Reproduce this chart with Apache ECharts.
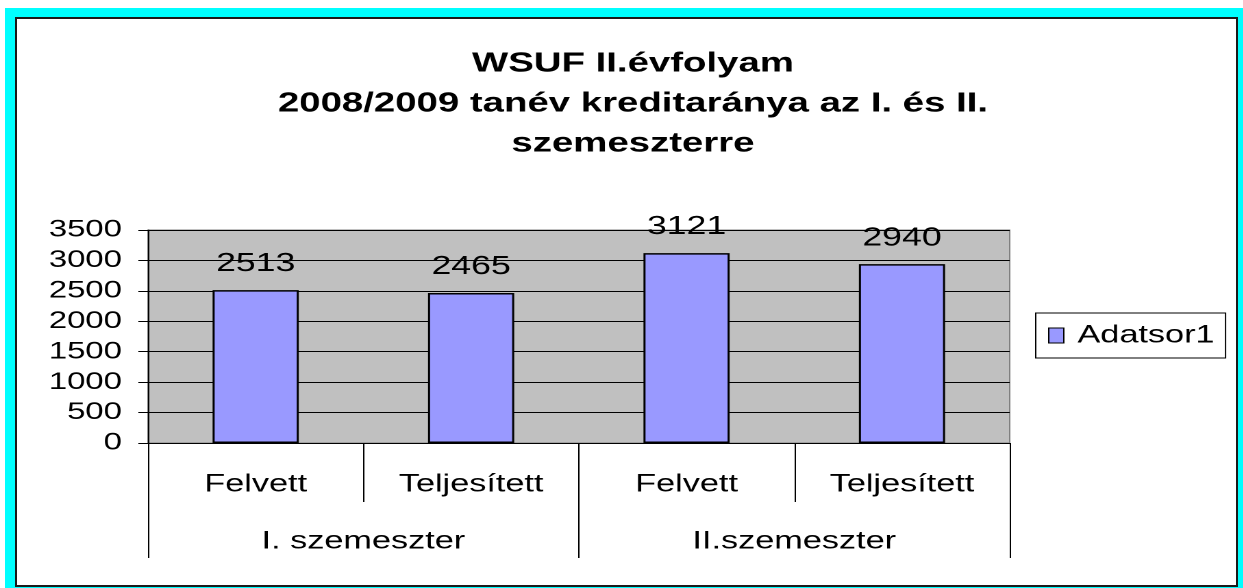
<!DOCTYPE html>
<html lang="hu">
<head>
<meta charset="utf-8">
<title>WSUF II.évfolyam kreditarány</title>
<script src="https://cdn.jsdelivr.net/npm/echarts@6/dist/echarts.min.js"></script>
<style>
  html, body { margin: 0; padding: 0; width: 1243px; height: 588px; background: #fff; overflow: hidden; }
  #frame { position: absolute; left: 5px; top: 8px; width: 1238px; height: 580px; background: #00ffff; }
  #inner { position: absolute; left: 15px; top: 17px; width: 1219px; height: 566px; background: #fff; border: 2px solid #1a1a1a; }
  /* the original picture is stretched sideways, so the chart is drawn narrower and scaled out */
  #chart { position: absolute; left: 0; top: 0; width: 907px; height: 588px; transform: scaleX(1.37); transform-origin: 0 0; }
</style>
</head>
<body>
<div id="frame"></div>
<div id="inner"></div>
<div id="chart"></div>
<script>
  // adatok
  var categories = ['Felvett', 'Teljesített', 'Felvett', 'Teljesített'];
  var groups = ['I. szemeszter', 'II.szemeszter'];
  var values = [2513, 2465, 3121, 2940];
  var seriesName = 'Adatsor1';
  var titleText = 'WSUF II.évfolyam\n2008/2009 tanév kreditaránya az I. és II.\nszemeszterre';

  var font = 'Liberation Sans, Arial, sans-serif';
  var chart = echarts.init(document.getElementById('chart'), null, { devicePixelRatio: 2 });

  var option = {
    animation: false,
    title: {
      text: titleText,
      left: 457,
      textAlign: 'center',
      top: 39,
      textStyle: {
        fontFamily: font,
        fontSize: 28,
        fontWeight: 'bold',
        color: '#000',
        lineHeight: 40
      }
    },
    legend: {
      data: [seriesName],
      left: 756,
      top: 313,
      orient: 'vertical',
      padding: [10, 8, 10, 9],
      borderColor: '#000',
      borderWidth: 1,
      backgroundColor: '#fff',
      itemWidth: 11,
      itemHeight: 15,
      itemGap: 0,
      icon: 'rect',
      itemStyle: { borderColor: '#000', borderWidth: 1 },
      textStyle: { fontFamily: font, fontSize: 25, color: '#000', padding: [0, 0, 0, 5] }
    },
    grid: {
      left: 108,
      top: 230,
      right: 170,
      bottom: 145,
      show: true,
      backgroundColor: '#c0c0c0',
      borderColor: '#808080',
      borderWidth: 1
    },
    xAxis: [
      {
        type: 'category',
        data: categories,
        position: 'bottom',
        axisLine: { show: true, lineStyle: { color: '#000', width: 1 } },
        axisTick: { show: true, length: 59, lineStyle: { color: '#000' } },
        axisLabel: { margin: 29, fontFamily: font, fontSize: 25, color: '#000' }
      },
      {
        type: 'category',
        data: groups,
        position: 'bottom',
        axisLine: { show: false },
        axisTick: { show: true, length: 115, lineStyle: { color: '#000' } },
        axisLabel: { margin: 86, fontFamily: font, fontSize: 25, color: '#000' }
      }
    ],
    yAxis: {
      type: 'value',
      min: 0,
      max: 3500,
      interval: 500,
      axisLine: { show: true, lineStyle: { color: '#000' } },
      axisTick: { show: true, length: 7, lineStyle: { color: '#000' } },
      splitLine: { show: true, lineStyle: { color: '#000', width: 1 } },
      axisLabel: {
        margin: 19,
        fontFamily: font,
        fontSize: 24,
        color: '#000',
        formatter: function (v) { return String(v); }
      }
    },
    series: [
      {
        name: seriesName,
        type: 'bar',
        xAxisIndex: 0,
        data: values,
        barWidth: '40%',
        itemStyle: { color: '#9999ff', borderColor: '#000', borderWidth: 1.5 },
        label: {
          show: true,
          position: 'top',
          distance: 13,
          fontFamily: font,
          fontSize: 26,
          color: '#000'
        }
      }
    ]
  };

  chart.setOption(option);
</script>
</body>
</html>
